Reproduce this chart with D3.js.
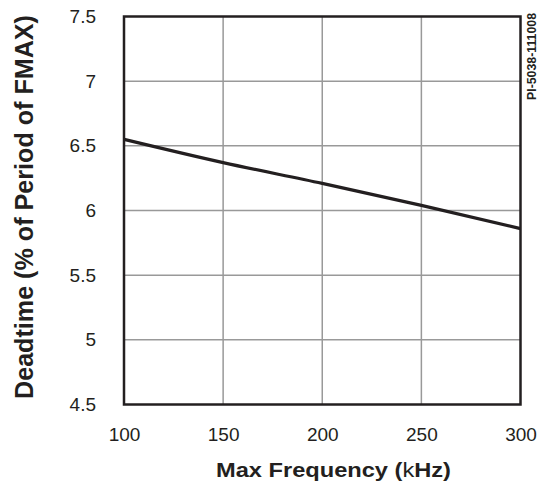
<!DOCTYPE html>
<meta charset="utf-8">
<script src="https://d3js.org/d3.v7.min.js"></script>
<style>
  body { margin: 0; background: #fff; }
  text { font-family: "Liberation Sans", Arial, sans-serif; fill: #231f20; }
</style>
<div id="chart"></div>
<script>
  // data
  var freq = [100, 150, 200, 250, 300];
  var deadtime = [6.55, 6.37, 6.21, 6.04, 5.86];
  var xTicks = [100, 150, 200, 250, 300];
  var yTicks = [4.5, 5, 5.5, 6, 6.5, 7, 7.5];

  var margin = {top: 16.5, right: 17.5, bottom: 82.5, left: 124},
      width = 538 - margin.left - margin.right,
      height = 487 - margin.top - margin.bottom;

  var svg = d3.select("#chart")
    .append("svg")
      .attr("width", 538)
      .attr("height", 487)
    .append("g")
      .attr("transform", "translate(" + margin.left + "," + margin.top + ")");

  var x = d3.scaleLinear().domain([100, 300]).range([0, width]);
  var y = d3.scaleLinear().domain([4.5, 7.5]).range([height, 0]);

  // grid
  svg.append("g")
    .selectAll("line")
    .data(xTicks.slice(1, -1))
    .enter().append("line")
      .attr("x1", function(d) { return x(d); })
      .attr("x2", function(d) { return x(d); })
      .attr("y1", 0).attr("y2", height)
      .style("stroke", "#999").style("stroke-width", 1.5);

  svg.append("g")
    .selectAll("line")
    .data(yTicks.slice(1, -1))
    .enter().append("line")
      .attr("y1", function(d) { return y(d); })
      .attr("y2", function(d) { return y(d); })
      .attr("x1", 0).attr("x2", width)
      .style("stroke", "#999").style("stroke-width", 1.5);

  // axes (labels only)
  var xAxis = svg.append("g")
    .attr("transform", "translate(0," + height + ")")
    .call(d3.axisBottom(x).tickValues(xTicks).tickSize(0).tickPadding(23));
  xAxis.select(".domain").remove();
  xAxis.selectAll("text").style("font-size", "19px").attr("dy", "0.71em");

  var yAxis = svg.append("g")
    .call(d3.axisLeft(y).tickValues(yTicks).tickSize(0).tickPadding(28).tickFormat(d3.format("")));
  yAxis.select(".domain").remove();
  yAxis.selectAll("text").style("font-size", "19px");

  // curve
  var line = d3.line()
    .x(function(d, i) { return x(freq[i]); })
    .y(function(d) { return y(d); })
    .curve(d3.curveMonotoneX);

  svg.append("path")
    .datum(deadtime)
    .attr("d", line)
    .style("fill", "none")
    .style("stroke", "#231f20")
    .style("stroke-width", 3.2);

  // frame
  svg.append("rect")
    .attr("width", width).attr("height", height)
    .style("fill", "none")
    .style("stroke", "#231f20")
    .style("stroke-width", 2.5);

  // axis titles
  var xt = svg.append("text")
    .attr("x", 333.5 - margin.left)
    .attr("y", 476.5 - margin.top)
    .attr("text-anchor", "middle")
    .attr("textLength", 235)
    .attr("lengthAdjust", "spacingAndGlyphs")
    .style("font-size", "20px")
    .style("font-weight", "bold");
  xt.append("tspan").text("Max Frequency (");
  xt.append("tspan").style("font-weight", "normal").text("k");
  xt.append("tspan").text("Hz)");

  svg.append("text")
    .attr("transform", "rotate(-90)")
    .attr("x", -(207 - margin.top))
    .attr("y", 33 - margin.left)
    .attr("text-anchor", "middle")
    .attr("textLength", 384)
    .attr("lengthAdjust", "spacingAndGlyphs")
    .style("font-size", "25px")
    .style("font-weight", "bold")
    .text("Deadtime (% of Period of FMAX)");

  svg.append("text")
    .attr("transform", "rotate(-90)")
    .attr("x", -(13 - margin.top))
    .attr("y", 535.5 - margin.left)
    .attr("text-anchor", "end")
    .attr("textLength", 87)
    .attr("lengthAdjust", "spacingAndGlyphs")
    .style("font-size", "12px")
    .style("font-weight", "bold")
    .text("PI-5038-111008");
</script>
